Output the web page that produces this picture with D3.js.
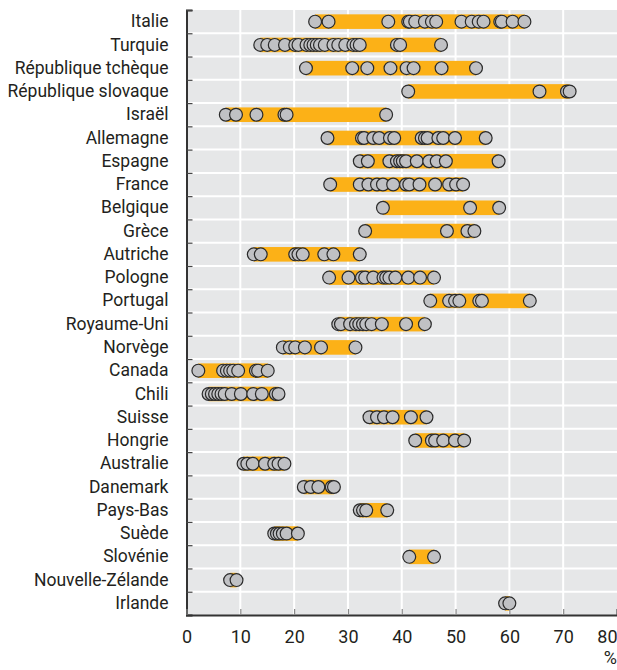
<!DOCTYPE html>
<html>
<head>
<meta charset="utf-8">
<script src="https://cdn.jsdelivr.net/npm/d3@7"></script>
<style>
    body { margin: 0; background: #ffffff; }
    svg text { font-family: Roboto, "Liberation Sans", sans-serif; fill: #231f20; }
</style>
</head>
<body>
<div id="chart"></div>
<script>
// Countries, top to bottom
const countries = [
    'Italie', 'Turquie', 'République tchèque', 'République slovaque', 'Israël',
    'Allemagne', 'Espagne', 'France', 'Belgique', 'Grèce', 'Autriche', 'Pologne',
    'Portugal', 'Royaume-Uni', 'Norvège', 'Canada', 'Chili', 'Suisse', 'Hongrie',
    'Australie', 'Danemark', 'Pays-Bas', 'Suède', 'Slovénie', 'Nouvelle-Zélande', 'Irlande'
];

// Regional values (%), one list per country, same order
const regionValues = [
    [23.9, 26.4, 37.5, 41.2, 41.5, 42.5, 44.3, 45.6, 46.4, 51.1, 53.0, 54.3, 55.2, 58.3, 58.6, 60.6, 62.8],
    [13.7, 15.0, 16.4, 18.3, 20.2, 20.8, 22.3, 23.0, 23.6, 24.2, 24.8, 25.7, 27.3, 28.2, 29.5, 31.0, 31.6, 32.2, 39.1, 39.7, 47.3],
    [22.2, 30.8, 33.6, 37.9, 40.9, 42.2, 47.4, 53.8],
    [41.2, 65.6, 70.7, 71.2],
    [7.3, 9.2, 13.0, 18.2, 18.6, 37.1],
    [26.2, 32.6, 33.0, 34.7, 35.8, 37.8, 38.6, 43.7, 44.3, 44.8, 46.8, 47.7, 49.9, 55.6],
    [32.2, 33.7, 37.7, 39.1, 39.7, 40.2, 40.8, 42.8, 45.1, 46.5, 48.2, 58.0],
    [26.7, 32.2, 33.8, 35.4, 36.5, 38.4, 40.8, 41.4, 43.3, 46.2, 48.8, 50.1, 51.4],
    [36.5, 52.7, 58.1],
    [33.2, 48.4, 52.2, 53.5],
    [12.5, 13.8, 20.2, 20.8, 21.6, 25.6, 27.3, 32.2],
    [26.5, 30.1, 32.6, 33.2, 34.7, 36.6, 37.1, 37.7, 38.8, 41.2, 43.4, 46.0],
    [45.3, 48.8, 49.9, 50.7, 54.4, 54.9, 63.8],
    [28.2, 28.7, 30.4, 31.5, 32.1, 32.8, 33.4, 34.4, 36.3, 40.8, 44.3],
    [17.9, 19.2, 20.2, 22.0, 25.0, 31.4],
    [2.2, 6.8, 7.5, 8.1, 8.7, 9.6, 12.9, 13.3, 15.1],
    [4.1, 4.7, 5.3, 5.9, 6.5, 7.1, 8.4, 10.1, 12.4, 14.0, 16.6, 17.1],
    [34.0, 35.4, 36.7, 38.3, 41.7, 44.6],
    [42.5, 45.6, 46.2, 47.7, 49.9, 51.6],
    [10.6, 11.3, 12.3, 14.6, 16.3, 17.1, 18.2],
    [21.8, 23.1, 24.5, 27.0, 27.4],
    [32.2, 32.8, 33.4, 37.3],
    [16.3, 16.8, 17.3, 17.9, 18.6, 20.7],
    [41.4, 46.0],
    [8.1, 9.3],
    [59.2, 60.0]
];

const xTicks = [0, 10, 20, 30, 40, 50, 60, 70, 80];

const width = 617;
const height = 670;
const plotLeft = 186.5, plotRight = 617, plotTop = 10, plotBottom = 615;

const svg = d3.select('#chart')
    .append('svg')
    .attr('width', width)
    .attr('height', height);

const x = d3.scaleLinear()
    .domain([0, 80])
    .range([plotLeft, plotRight]);

const y = d3.scaleBand()
    .domain(countries)
    .range([plotTop, plotBottom]);

// row boundaries for the left ticks / horizontal grid
const yRows = d3.scaleLinear()
    .domain([0, countries.length])
    .range([plotTop, plotBottom]);

// plot background
svg.append('rect')
    .attr('x', plotLeft)
    .attr('y', plotTop)
    .attr('width', plotRight - plotLeft)
    .attr('height', plotBottom - plotTop)
    .attr('fill', '#e6e7e8');

// grid
svg.append('g')
    .selectAll('line')
    .data(xTicks.slice(1, -1))
    .join('line')
    .attr('x1', d => x(d))
    .attr('x2', d => x(d))
    .attr('y1', plotTop)
    .attr('y2', plotBottom)
    .attr('stroke', '#ffffff')
    .attr('stroke-width', 2);

svg.append('g')
    .selectAll('line')
    .data(d3.range(1, countries.length))
    .join('line')
    .attr('x1', plotLeft)
    .attr('x2', plotRight)
    .attr('y1', d => yRows(d))
    .attr('y2', d => yRows(d))
    .attr('stroke', '#ffffff')
    .attr('stroke-width', 2);

// orange range bars
const rows = countries.map((c, i) => ({ country: c, values: regionValues[i] }));

svg.append('g')
    .selectAll('rect')
    .data(rows)
    .join('rect')
    .attr('x', d => x(d3.min(d.values)))
    .attr('width', d => x(d3.max(d.values)) - x(d3.min(d.values)))
    .attr('y', d => y(d.country) + y.bandwidth() / 2 - 7.3)
    .attr('height', 14.6)
    .attr('fill', '#fcb117');

// circles
svg.append('g')
    .selectAll('g')
    .data(rows)
    .join('g')
    .attr('transform', d => `translate(0, ${y(d.country) + y.bandwidth() / 2})`)
    .selectAll('circle')
    .data(d => d.values)
    .join('circle')
    .attr('cx', d => x(d))
    .attr('cy', 0)
    .attr('r', 6.4)
    .attr('fill', '#c0c1c4')
    .attr('stroke', '#2a2a2a')
    .attr('stroke-width', 1.2);

// left axis: ticks at row boundaries
svg.append('g')
    .attr('transform', `translate(${plotLeft}, 0)`)
    .call(d3.axisLeft(yRows).tickValues(d3.range(0, countries.length + 1)).tickSize(-6).tickFormat(''))
    .call(g => g.selectAll('.tick line').attr('stroke', '#444').attr('stroke-width', 1.2))
    .call(g => g.select('.domain').attr('stroke', '#333').attr('stroke-width', 2));

// country labels
svg.append('g')
    .attr('transform', `translate(${plotLeft}, 0)`)
    .call(d3.axisLeft(y).tickSize(0).tickPadding(18))
    .call(g => g.select('.domain').remove())
    .call(g => g.selectAll('text').attr('font-size', '17.5px').style('fill', '#231f20'));

// bottom axis
svg.append('g')
    .attr('transform', `translate(0, ${plotBottom})`)
    .call(d3.axisBottom(x).tickValues(xTicks).tickSize(-6).tickPadding(15))
    .call(g => g.selectAll('.tick line').attr('stroke', '#888').attr('stroke-width', 1.2))
    .call(g => g.select('.domain').attr('stroke', '#333').attr('stroke-width', 2))
    .call(g => g.selectAll('text').attr('font-size', '18px').style('fill', '#231f20'))
    .call(g => g.selectAll('.tick').filter(d => d === 80).select('text').attr('text-anchor', 'end').attr('x', plotRight - x(80)));

// unit
svg.append('text')
    .attr('x', plotRight)
    .attr('y', 664)
    .attr('text-anchor', 'end')
    .attr('font-size', '18px')
    .text('%');
</script>
</body>
</html>
